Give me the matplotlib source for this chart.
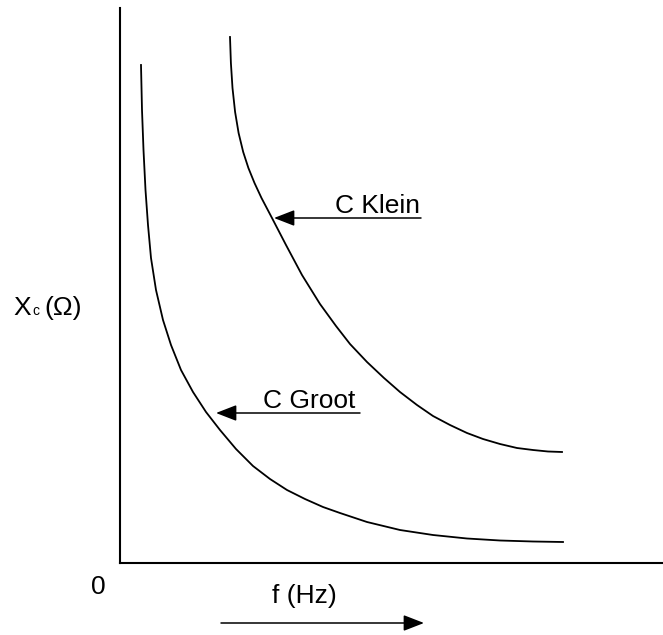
import matplotlib
matplotlib.use("Agg")
import matplotlib.pyplot as plt

plt.rcParams['font.family'] = ['Liberation Sans', 'DejaVu Sans']

# Curves (arbitrary units: f to the right, Xc up)
f_groot = [21, 22, 23.5, 25.5, 28, 31, 36, 43, 51, 61, 73, 86, 100, 116, 133, 150,
           167, 185, 203, 220, 247, 280, 313, 347, 380, 413, 443]
xc_groot = [498, 453, 413, 373, 338, 305, 273, 243, 218, 193, 171, 151, 133, 114, 97, 84,
            73, 64, 56, 50, 41, 33, 28, 24.5, 22.5, 21.5, 21]

f_klein = [110, 110.9, 112.5, 115.1, 118.6, 123.2, 128.4, 134.5, 141.5, 152, 166, 182,
           200, 216, 230, 247, 264, 280, 297, 313, 330, 347, 363, 380, 397, 413, 428, 442]
xc_klein = [526, 500, 475, 451, 430, 411, 395, 380, 365, 345, 318, 288,
            259, 237, 219, 201, 185, 171, 158, 147, 138, 130, 124, 119, 115, 113, 111.5, 111]

labels = ['C Klein', 'C Groot']

fig = plt.figure(figsize=(6.63, 6.35), dpi=100)
ax = fig.add_axes([120 / 663, 72 / 635, 543 / 663, 555 / 635])
ax.set_xlim(0, 543)
ax.set_ylim(0, 555)

ax.plot(f_groot, xc_groot, color='black', lw=1.3, solid_joinstyle='round')
ax.plot(f_klein, xc_klein, color='black', lw=1.3, solid_joinstyle='round')

for s in ['top', 'right']:
    ax.spines[s].set_visible(False)
for s in ['left', 'bottom']:
    ax.spines[s].set_linewidth(1.5)
ax.set_xticks([])
ax.set_yticks([])

arrow = dict(arrowstyle='-|>,head_length=0.9,head_width=0.35', color='black',
             lw=1.1, shrinkA=0, shrinkB=0, mutation_scale=14)

# labels with arrows pointing to the curves
ax.annotate('', xy=(154, 345), xytext=(301, 345), arrowprops=arrow)
ax.text(300, 350, labels[0], ha='right', va='baseline', fontsize=19)
ax.annotate('', xy=(96, 150), xytext=(240, 150), arrowprops=arrow)
ax.text(235, 155, labels[1], ha='right', va='baseline', fontsize=19)

# axis labels
ax.text(-22, -24, '0', ha='center', va='center', fontsize=19, clip_on=False)
ax.text(184, -33, 'f (Hz)', ha='center', va='center', fontsize=19, clip_on=False)
ax.annotate('', xy=(304, -60), xytext=(101, -60), arrowprops=arrow,
            annotation_clip=False)

ax.text(-107, 248, 'X', ha='left', va='baseline', fontsize=19, clip_on=False)
ax.text(-87.5, 248, 'c', ha='left', va='baseline', fontsize=10, clip_on=False)
ax.text(-76, 248, '(\u03a9)', ha='left', va='baseline', fontsize=19, clip_on=False)

fig.savefig('out.png', dpi=100)
